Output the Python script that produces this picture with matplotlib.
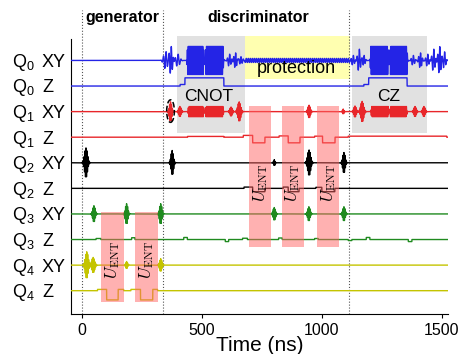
import numpy as np
import matplotlib.pyplot as plt
import matplotlib.transforms as mtransforms
from matplotlib.patches import Rectangle, Ellipse

plt.rcParams['font.family'] = ['Liberation Sans', 'DejaVu Sans']
plt.rcParams['mathtext.fontset'] = 'custom'
plt.rcParams['mathtext.rm'] = 'Liberation Sans'
plt.rcParams['mathtext.it'] = 'Liberation Sans:italic'

#Rows (top to bottom)
row_qubits = ["Q$_0$", "Q$_0$", "Q$_1$", "Q$_1$", "Q$_2$", "Q$_2$", "Q$_3$", "Q$_3$", "Q$_4$", "Q$_4$"]
row_kinds = ["XY", "Z", "XY", "Z", "XY", "Z", "XY", "Z", "XY", "Z"]
row_pos = [9, 8, 7, 6, 5, 4, 3, 2, 1, 0]
qubit_colors = ["#2424e6", "#e8262a", "#000000", "#1f8a1f", "#c4c400"]

#XY gate pulses: (centre ns, sigma ns, amplitude)
q0_xy_pulses = []
q1_xy_pulses = [(370, 5, 0.38), (409, 5, 0.2), (622, 5, 0.18), (656, 6, 0.38),
                (947, 5, 0.25), (1089, 3, 0.1), (1138, 5, 0.22), (1168, 6, 0.4),
                (1388, 5, 0.2), (1425, 5, 0.2)]
q2_xy_pulses = [(18, 6, 0.58), (377, 5, 0.48), (802, 3, 0.12), (947, 6, 0.5), (1092, 5, 0.4)]
q3_xy_pulses = [(51, 5, 0.32), (187, 5, 0.4), (329, 5, 0.4), (802, 5, 0.25), (946, 5, 0.28), (1092, 5, 0.28)]
q4_xy_pulses = [(21, 6, 0.52), (48, 6, 0.3), (187, 4, 0.14), (329, 5, 0.25)]

#Flat-top XY blocks: (start ns, end ns, amplitude)
q0_xy_blocks = [(437, 511, 0.55), (513, 592, 0.55), (1200, 1279, 0.55), (1281, 1358, 0.55)]
q1_xy_blocks = [(441, 511, 0.2), (513, 592, 0.2), (1203, 1280, 0.2), (1282, 1356, 0.2)]

#Q0 noisy wiggles: (centre ns, sigma ns, amplitude, freq 1/ns)
q0_wiggles = [(350, 8, 0.35, 0.09), (372, 6, 0.55, 0.11), (400, 8, 0.25, 0.08),
              (615, 6, 0.25, 0.10), (640, 6, 0.3, 0.12), (662, 8, 0.15, 0.10),
              (1130, 6, 0.2, 0.10), (1155, 6, 0.45, 0.10), (1175, 5, 0.2, 0.12),
              (1380, 6, 0.2, 0.10), (1410, 6, 0.3, 0.12), (1440, 6, 0.25, 0.10),
              (1465, 6, 0.45, 0.10), (1490, 6, 0.55, 0.11), (1510, 5, 0.35, 0.10)]
protection_span = (680, 1117)
protection_amp = 0.08

#Z flux steps: (start ns, end ns, level)
q0_z_steps = [(410, 430, 0.06), (430, 592, 0.32), (1175, 1195, 0.06), (1195, 1355, 0.32)]
q1_z_steps = [(441, 592, 0.03), (673, 712, 0.07), (712, 763, -0.22), (822, 860, 0.05),
              (860, 909, -0.22), (970, 1003, 0.04), (1003, 1055, -0.22), (1110, 1520, 0.04)]
q2_z_steps = [(676, 712, 0.05), (712, 763, -0.13), (839, 860, 0.05), (860, 905, -0.13),
              (975, 1000, 0.04), (1000, 1054, -0.13)]
q3_z_steps = [(60, 80, 0.04), (208, 222, 0.07), (425, 440, 0.08), (598, 612, -0.08),
              (670, 690, 0.05), (820, 835, 0.06), (970, 985, 0.04), (1110, 1125, -0.04),
              (1185, 1200, 0.08), (1360, 1375, -0.08)]
q4_z_steps = [(66, 104, 0.05), (104, 152, -0.36), (152, 175, 0.05),
              (205, 245, 0.05), (245, 296, -0.36), (296, 316, 0.05)]

#Boxes: (start ns, end ns, y bottom, y top)
gate_boxes = [(395, 680, 6.15, 9.96), (1127, 1437, 6.15, 9.96)]
protection_box = (680, 1117, 8.27, 9.96)
ent_boxes = [(80, 175, -0.43, 3.09), (222, 316, -0.43, 3.09),
             (698, 788, 1.72, 7.21), (835, 925, 1.72, 7.21), (981, 1072, 1.72, 7.21)]
stage_lines = [0, 338, 1114]

t = np.arange(-45, 1525, 0.25)
carrier = 0.25


def xy_wave(pulses, blocks):
    y = np.zeros_like(t)
    for c, s, a in pulses:
        y += a * np.exp(-(t - c) ** 2 / (2 * s ** 2)) * np.cos(2 * np.pi * carrier * (t - c))
    for a0, a1, amp in blocks:
        env = np.clip((t - a0) / 4, 0, 1) * np.clip((a1 - t) / 4, 0, 1)
        y += amp * env * np.cos(2 * np.pi * carrier * t)
    return y


def wiggle_wave(wiggles):
    y = np.zeros_like(t)
    for c, s, a, f in wiggles:
        y += a * np.exp(-(t - c) ** 2 / (2 * s ** 2)) * np.sin(2 * np.pi * f * (t - c) + 0.7)
    return y


def z_wave(steps):
    y = np.zeros_like(t)
    for a0, a1, lvl in steps:
        y[(t >= a0) & (t < a1)] += lvl
    return y


q0_xy = xy_wave(q0_xy_pulses, q0_xy_blocks) + wiggle_wave(q0_wiggles)
mask = (t >= protection_span[0]) & (t <= protection_span[1])
q0_xy[mask] += protection_amp * np.sin(2 * np.pi * 0.12 * t[mask])

waves = [q0_xy, z_wave(q0_z_steps),
         xy_wave(q1_xy_pulses, q1_xy_blocks), z_wave(q1_z_steps),
         xy_wave(q2_xy_pulses, []), z_wave(q2_z_steps),
         xy_wave(q3_xy_pulses, []), z_wave(q3_z_steps),
         xy_wave(q4_xy_pulses, []), z_wave(q4_z_steps)]

fig = plt.figure(figsize=(4.71, 3.54), dpi=100)
ax = fig.add_axes([0.1507, 0.1138, 0.7998, 0.886])

for i, (y0, w) in enumerate(zip(row_pos, waves)):
    ax.plot(t, y0 + w, color=qubit_colors[i // 2], lw=1.0, zorder=3)

for a0, a1, b0, b1 in gate_boxes:
    ax.add_patch(Rectangle((a0, b0), a1 - a0, b1 - b0, color="#e1e1e1", lw=0, zorder=1))
a0, a1, b0, b1 = protection_box
ax.add_patch(Rectangle((a0, b0), a1 - a0, b1 - b0, color="#ffffb0", lw=0, zorder=1.5))
for a0, a1, b0, b1 in ent_boxes:
    ax.add_patch(Rectangle((a0, b0), a1 - a0, b1 - b0, color="#ff6464", alpha=0.5, lw=0, zorder=4))
    ax.text((a0 + a1) / 2, b0 + 0.45 * (b1 - b0) if b0 > 0 else 1.21, r"$U_{\mathrm{ENT}}$",
            rotation=90, ha="center", va="center", fontsize=12, math_fontfamily="cm", zorder=5)

for x in stage_lines:
    ax.plot([x, x], [-0.9, 10.96], color="#555555", ls=":", lw=0.8, zorder=2)

ax.add_patch(Ellipse((370, 7.02), 32, 0.88, fill=False, ls="--", lw=1.1, color="black", zorder=5))

ax.text(168, 10.69, "generator", ha="center", va="center", fontsize=11.5, fontweight="bold")
ax.text(734, 10.69, "discriminator", ha="center", va="center", fontsize=11.5, fontweight="bold")
ax.text(893, 8.69, "protection", ha="center", va="center", fontsize=13, zorder=5)
ax.text(528, 7.6, "CNOT", ha="center", va="center", fontsize=12.5, zorder=5)
ax.text(1277, 7.6, "CZ", ha="center", va="center", fontsize=12.5, zorder=5)

#Row labels
trans = mtransforms.blended_transform_factory(ax.transAxes, ax.transData)
for q, k, y0 in zip(row_qubits, row_kinds, row_pos):
    ax.text(-0.157, y0 - 0.25, q, transform=trans, va="baseline", ha="left", fontsize=13)
    ax.text(-0.077, y0 - 0.25, k, transform=trans, va="baseline", ha="left", fontsize=13)

ax.set_xlim(-44.5, 1524)
ax.set_ylim(-0.9, 11.36)
ax.set_yticks([])
ax.set_xticks([0, 500, 1000, 1500])
ax.tick_params(axis="x", labelsize=11.5, length=3)
ax.set_xlabel("Time (ns)", fontsize=15, labelpad=-1)
ax.spines["top"].set_visible(False)
ax.spines["right"].set_visible(False)
ax.spines["left"].set_bounds(-0.9, 9.83)
ax.patch.set_alpha(0)

fig.savefig("out.png", dpi=100)
